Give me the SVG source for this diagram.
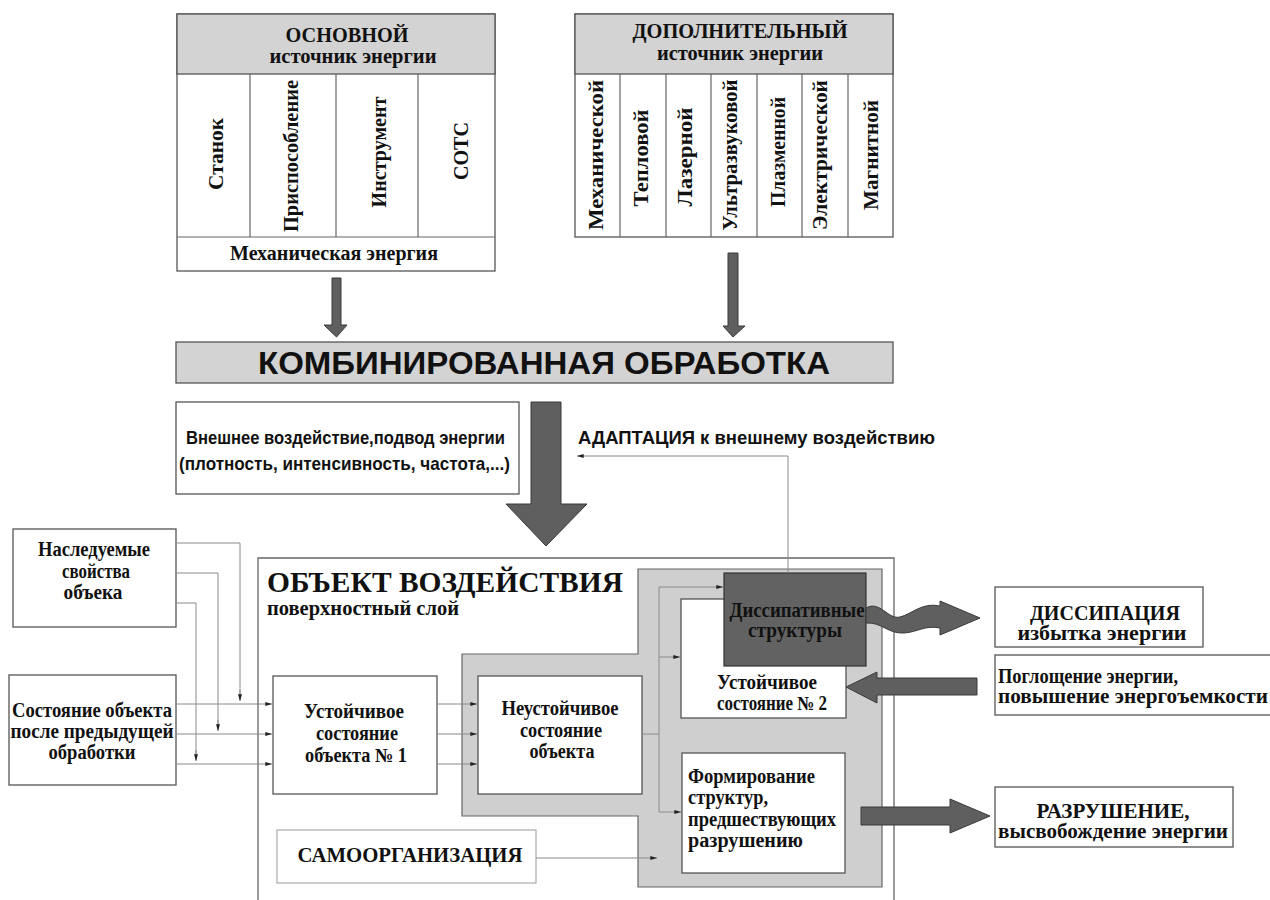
<svg xmlns="http://www.w3.org/2000/svg" width="1270" height="900" viewBox="0 0 1270 900">
<defs>
<style>
.box{fill:#fff;stroke:#555;stroke-width:1.3}
.hdr{fill:#d3d3d3;stroke:#555;stroke-width:1.3}
.div{stroke:#666;stroke-width:1.2}
.t{font-family:"Liberation Serif","Times New Roman",serif;font-weight:bold;fill:#111}
.c{text-anchor:middle}
.n{font-family:"Liberation Sans Narrow","Liberation Sans",Arial,sans-serif;font-weight:bold;fill:#111}
.big{fill:#5f5f5f;stroke:#3a3a3a;stroke-width:1}
.ln{fill:none;stroke:#8a8a8a;stroke-width:1}
.la{fill:none;stroke:#8a8a8a;stroke-width:1;marker-end:url(#ah)}
</style>
<marker id="ah" viewBox="0 0 10 6" refX="10" refY="3" markerWidth="8" markerHeight="4" orient="auto" markerUnits="userSpaceOnUse">
<path d="M0,0 L10,3 L0,6 Z" fill="#222"/>
</marker>
</defs>
<rect width="1270" height="900" fill="#fff"/>

<g id="main-source">
<rect class="box" x="177" y="14" width="318" height="257"/>
<rect class="hdr" x="177" y="14" width="318" height="60"/>
<line class="div" x1="250" y1="74" x2="250" y2="237"/>
<line class="div" x1="336" y1="74" x2="336" y2="237"/>
<line class="div" x1="418" y1="74" x2="418" y2="237"/>
<line class="div" x1="177" y1="237" x2="495" y2="237"/>
<text class="t c" x="347" y="42" font-size="21" textLength="123" lengthAdjust="spacingAndGlyphs">ОСНОВНОЙ</text>
<text class="t c" x="353" y="63" font-size="20" textLength="167" lengthAdjust="spacingAndGlyphs">источник энергии</text>
<text class="t c" transform="translate(223,154) rotate(-90)" font-size="21" textLength="72" lengthAdjust="spacingAndGlyphs">Станок</text>
<text class="t c" transform="translate(298,156) rotate(-90)" font-size="21" textLength="152" lengthAdjust="spacingAndGlyphs">Приспособление</text>
<text class="t c" transform="translate(386,152) rotate(-90)" font-size="21" textLength="111" lengthAdjust="spacingAndGlyphs">Инструмент</text>
<text class="t c" transform="translate(468,151) rotate(-90)" font-size="21" textLength="58" lengthAdjust="spacingAndGlyphs">СОТС</text>
<text class="t c" x="334" y="260" font-size="20" textLength="208" lengthAdjust="spacingAndGlyphs">Механическая энергия</text>
</g>

<g id="extra-source">
<rect class="box" x="575" y="14" width="318" height="223"/>
<rect class="hdr" x="575" y="14" width="318" height="60"/>
<line class="div" x1="620" y1="74" x2="620" y2="237"/>
<line class="div" x1="666" y1="74" x2="666" y2="237"/>
<line class="div" x1="711" y1="74" x2="711" y2="237"/>
<line class="div" x1="757" y1="74" x2="757" y2="237"/>
<line class="div" x1="802" y1="74" x2="802" y2="237"/>
<line class="div" x1="848" y1="74" x2="848" y2="237"/>
<text class="t c" x="740" y="38" font-size="21" textLength="215" lengthAdjust="spacingAndGlyphs">ДОПОЛНИТЕЛЬНЫЙ</text>
<text class="t c" x="740" y="60" font-size="20" textLength="166" lengthAdjust="spacingAndGlyphs">источник энергии</text>
<text class="t c" transform="translate(603,155) rotate(-90)" font-size="21" textLength="150" lengthAdjust="spacingAndGlyphs">Механической</text>
<text class="t c" transform="translate(648,158) rotate(-90)" font-size="21" textLength="97" lengthAdjust="spacingAndGlyphs">Тепловой</text>
<text class="t c" transform="translate(692,157) rotate(-90)" font-size="21" textLength="99" lengthAdjust="spacingAndGlyphs">Лазерной</text>
<text class="t c" transform="translate(737,155) rotate(-90)" font-size="21" textLength="151" lengthAdjust="spacingAndGlyphs">Ультразвуковой</text>
<text class="t c" transform="translate(785,152) rotate(-90)" font-size="21" textLength="110" lengthAdjust="spacingAndGlyphs">Плазменной</text>
<text class="t c" transform="translate(827,155) rotate(-90)" font-size="21" textLength="150" lengthAdjust="spacingAndGlyphs">Электрической</text>
<text class="t c" transform="translate(878,155) rotate(-90)" font-size="21" textLength="110" lengthAdjust="spacingAndGlyphs">Магнитной</text>
</g>

<g id="combined">
<rect class="hdr" x="176" y="342" width="717" height="41"/>
<text class="n" x="258" y="374" font-size="31" textLength="572" lengthAdjust="spacingAndGlyphs">КОМБИНИРОВАННАЯ ОБРАБОТКА</text>
</g>

<g id="external">
<rect class="box" x="176" y="402" width="343" height="92"/>
<text class="n" x="186" y="444" font-size="19" textLength="319" lengthAdjust="spacingAndGlyphs">Внешнее воздействие,подвод энергии</text>
<text class="n" x="179" y="470" font-size="19" textLength="331" lengthAdjust="spacingAndGlyphs">(плотность, интенсивность, частота,...)</text>
</g>

<g id="adaptation-label">
<text class="n" x="578" y="444" font-size="19" textLength="357" lengthAdjust="spacingAndGlyphs">АДАПТАЦИЯ к внешнему  воздействию</text>
</g>

<g id="inherited">
<rect class="box" x="13" y="529" width="163" height="98"/>
<text class="t c" x="94" y="556" font-size="20" textLength="112" lengthAdjust="spacingAndGlyphs">Наследуемые</text>
<text class="t c" x="96" y="578" font-size="20" textLength="68" lengthAdjust="spacingAndGlyphs">свойства</text>
<text class="t c" x="93" y="599" font-size="20" textLength="59" lengthAdjust="spacingAndGlyphs">объека</text>
</g>

<g id="prev-state">
<rect class="box" x="9" y="675" width="167" height="110"/>
<text class="t c" x="92" y="717" font-size="20" textLength="160" lengthAdjust="spacingAndGlyphs">Состояние объекта</text>
<text class="t c" x="92" y="738" font-size="20" textLength="163" lengthAdjust="spacingAndGlyphs">после предыдущей</text>
<text class="t c" x="92" y="759" font-size="20" textLength="87" lengthAdjust="spacingAndGlyphs">обработки</text>
</g>

<g id="object">
<path d="M258,900 L258,558 L894,558 L894,900" fill="#fff" stroke="#666" stroke-width="1.3"/>
<text class="t" x="267" y="592" font-size="29" textLength="356" lengthAdjust="spacingAndGlyphs">ОБЪЕКТ ВОЗДЕЙСТВИЯ</text>
<text class="t" x="267" y="615" font-size="20" textLength="192" lengthAdjust="spacingAndGlyphs">поверхностный слой</text>
<path d="M638,569 L882,569 L882,887 L638,887 L638,816 L462,816 L462,654 L638,654 Z" fill="#cfcfcf" stroke="#666" stroke-width="1.2"/>
</g>

<g id="stable1">
<rect class="box" x="273" y="676" width="164" height="118"/>
<text class="t c" x="354" y="718" font-size="20" textLength="100" lengthAdjust="spacingAndGlyphs">Устойчивое</text>
<text class="t c" x="357" y="740" font-size="20" textLength="82" lengthAdjust="spacingAndGlyphs">состояние</text>
<text class="t c" x="356" y="762" font-size="20" textLength="102" lengthAdjust="spacingAndGlyphs">объекта № 1</text>
</g>

<g id="unstable">
<rect class="box" x="478" y="676" width="164" height="118"/>
<text class="t c" x="560" y="715" font-size="20" textLength="117" lengthAdjust="spacingAndGlyphs">Неустойчивое</text>
<text class="t c" x="561" y="737" font-size="20" textLength="82" lengthAdjust="spacingAndGlyphs">состояние</text>
<text class="t c" x="562" y="758" font-size="20" textLength="65" lengthAdjust="spacingAndGlyphs">объекта</text>
</g>

<g id="stable2">
<rect class="box" x="681" y="599" width="165" height="119"/>
<text class="t c" x="767" y="689" font-size="20" textLength="100" lengthAdjust="spacingAndGlyphs">Устойчивое</text>
<text class="t c" x="772" y="710" font-size="20" textLength="110" lengthAdjust="spacingAndGlyphs">состояние № 2</text>
</g>

<g id="dissipative">
<rect x="724" y="573" width="142" height="93" fill="#626262" stroke="#333" stroke-width="1.2"/>
<text class="t c" x="797" y="617" font-size="20" textLength="135" lengthAdjust="spacingAndGlyphs">Диссипативные</text>
<text class="t c" x="795" y="637" font-size="20" textLength="94" lengthAdjust="spacingAndGlyphs">структуры</text>
</g>

<g id="pre-destruction">
<rect class="box" x="682" y="753" width="163" height="120"/>
<text class="t" x="688" y="783" font-size="20" textLength="127" lengthAdjust="spacingAndGlyphs">Формирование</text>
<text class="t" x="688" y="804" font-size="20" textLength="80" lengthAdjust="spacingAndGlyphs">структур,</text>
<text class="t" x="688" y="826" font-size="20" textLength="148" lengthAdjust="spacingAndGlyphs">предшествующих</text>
<text class="t" x="688" y="847" font-size="20" textLength="115" lengthAdjust="spacingAndGlyphs">разрушению</text>
</g>

<g id="selforg">
<rect x="277" y="830" width="259" height="53" fill="#fff" stroke="#aaa" stroke-width="1.2"/>
<text class="t c" x="410" y="862" font-size="20" textLength="225" lengthAdjust="spacingAndGlyphs">САМООРГАНИЗАЦИЯ</text>
</g>

<g id="dissipation">
<rect class="box" x="995" y="587" width="208" height="60"/>
<text class="t c" x="1105" y="620" font-size="20" textLength="150" lengthAdjust="spacingAndGlyphs">ДИССИПАЦИЯ</text>
<text class="t c" x="1102" y="640" font-size="20" textLength="169" lengthAdjust="spacingAndGlyphs">избытка энергии</text>
</g>

<g id="absorption">
<rect class="box" x="995" y="655" width="290" height="60"/>
<text class="t" x="998" y="683" font-size="20" textLength="180" lengthAdjust="spacingAndGlyphs">Поглощение энергии,</text>
<text class="t" x="998" y="703" font-size="20" textLength="270" lengthAdjust="spacingAndGlyphs">повышение энергоъемкости</text>
</g>

<g id="destruction">
<rect class="box" x="995" y="787" width="238" height="60"/>
<text class="t c" x="1113" y="818" font-size="20" textLength="153" lengthAdjust="spacingAndGlyphs">РАЗРУШЕНИЕ,</text>
<text class="t c" x="1113" y="838" font-size="20" textLength="230" lengthAdjust="spacingAndGlyphs">высвобождение энергии</text>
</g>

<g id="connectors">
<path class="big" d="M332,278 L341,278 L341,325 L347,325 L336.5,337 L324,325 L332,325 Z"/>
<path class="big" d="M728,253 L738,253 L738,326 L745,326 L733,337 L723,326 L728,326 Z"/>
<path class="big" d="M531,402 L561,402 L561,504 L587,504 L546,546 L506,504 L531,504 Z"/>
<path class="big" d="M866,608 C880,600 888,620 900,617 C912,614 922,602 940,606 L940,601 L980,618 L940,635 L940,628 C925,625 918,632 904,633 C888,634 882,622 866,623 Z"/>
<path class="big" d="M977,678 L977,695 L877,695 L877,703 L846,687 L877,672 L877,678 Z"/>
<path class="big" d="M861,807 L950,807 L950,799 L990,816 L950,833 L950,825 L861,825 Z"/>

<path class="ln" d="M176,543 L240,543 L240,700"/>
<path class="la" d="M240,690 L240,701"/>
<path class="ln" d="M176,573 L218,573 L218,730"/>
<path class="la" d="M218,720 L218,731"/>
<path class="ln" d="M176,603 L196,603 L196,760"/>
<path class="la" d="M196,750 L196,761"/>
<path class="la" d="M176,704 L272,704"/>
<path class="la" d="M176,734 L272,734"/>
<path class="la" d="M176,764 L272,764"/>
<path class="la" d="M437,704 L477,704"/>
<path class="la" d="M437,734 L477,734"/>
<path class="la" d="M437,764 L477,764"/>
<path class="ln" d="M642,734 L659,734 M659,587 L659,812"/>
<path class="la" d="M659,587 L723,587"/>
<path class="la" d="M659,657 L680,657"/>
<path class="la" d="M659,812 L681,812"/>
<path class="la" d="M536,858 L657,858"/>
<path class="la" d="M788,573 L788,456 L577,456"/>
</g>
</svg>
